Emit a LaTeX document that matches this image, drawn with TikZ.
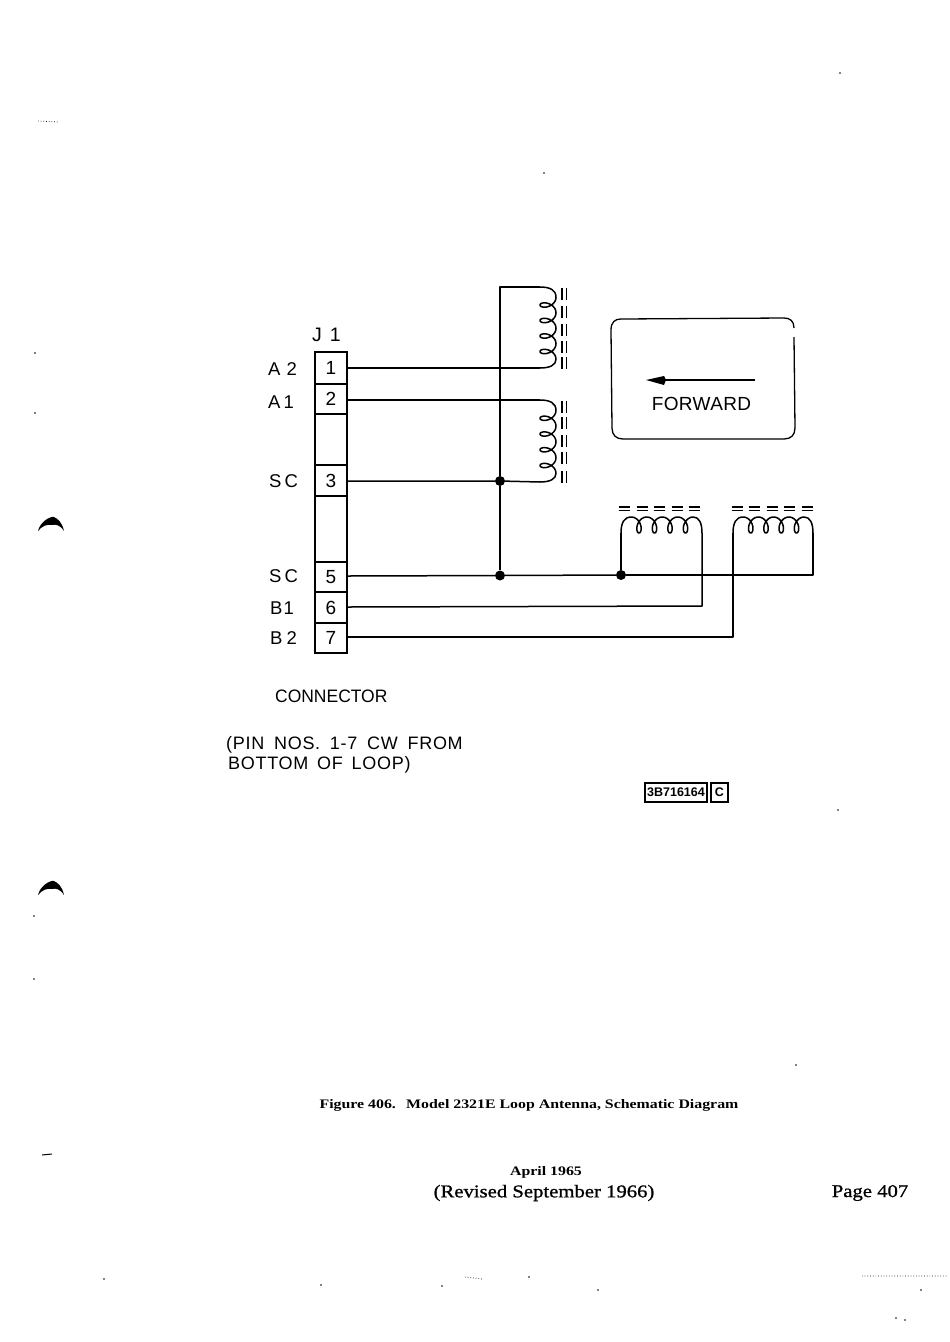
\documentclass[tikz,border=0pt]{standalone}
\usepackage{fontspec}
\setmainfont{Liberation Sans}
\newfontfamily\lsfont{Liberation Sans}[LetterSpace=2]
\newfontfamily\notefont{Liberation Sans}[LetterSpace=4]
\newfontfamily\connfont{Liberation Sans}[FakeStretch=0.97]
\newfontfamily\figfont{Liberation Serif}[FakeStretch=1.22]
\newfontfamily\pagefont{Liberation Serif}[FakeStretch=1.15,FakeBold=1]
\newcommand{\vcoil}[2]{%
  \begin{scope}[shift={(540,#1)}]
    \pgfmathsetmacro{\LL}{#2-#1}
    \pgfmathsetmacro{\pp}{(\LL-19)/4}
    \draw[wire] (0,0) .. controls (10,0) and (16,3) .. (16,2.5+0.5*\pp)
      -- plot[smooth,domain=0.5:4.5,samples=129,variable=\u]
        ({8*(1-cos(360*\u))},{2.5+\pp*\u-5.5*sin(360*\u)})
      .. controls (16,\LL-3) and (10,\LL) .. (0,\LL);
  \end{scope}}
\newcommand{\hcoil}[2]{%
  \begin{scope}[shift={(#1,533)}]
    \pgfmathsetmacro{\LL}{#2-#1}
    \pgfmathsetmacro{\pp}{(\LL-19)/4}
    \draw[wire] (0,0) .. controls (0,-10) and (3,-16) .. (2.5+0.5*\pp,-16)
      -- plot[smooth,domain=0.5:4.5,samples=129,variable=\u]
        ({2.5+\pp*\u-5.5*sin(360*\u)},{-8*(1-cos(360*\u))})
      .. controls (\LL-3,-16) and (\LL,-10) .. (\LL,0);
  \end{scope}}
\begin{document}
\begin{tikzpicture}[x=1pt,y=-1pt,
  wire/.style={line width=1.5pt,line join=round},
  pinbox/.style={draw,line width=1.5pt,minimum width=32pt,inner sep=0pt,font=\fontsize{19}{19}\selectfont},
  emptybox/.style={draw,line width=1.5pt,minimum width=32pt,inner sep=0pt},
  lbl/.style={inner sep=0pt,anchor=base west,font=\fontsize{18.5}{18.5}\selectfont},
  captxt/.style={inner sep=0pt,anchor=base west,font=\notefont\fontsize{18}{18}\selectfont},
  dot/.style={circle,fill,inner sep=0pt,minimum size=10pt},
  smudge/.style={fill=black,draw=none}]
\useasboundingbox (0,0) rectangle (950,1342);
\fill[white] (0,0) rectangle (950,1342);
% connector
\node[pinbox,minimum height=32pt] (p1) at (331,368) {1};
\node[pinbox,minimum height=30pt] (p2) at (331,399) {2};
\node[emptybox,minimum height=51pt] (e1) at (331,439.5) {};
\node[pinbox,minimum height=31pt] (p3) at (331,480.5) {3};
\node[emptybox,minimum height=66pt] (e2) at (331,529) {};
\node[pinbox,minimum height=30pt] (p5) at (331,577) {5};
\node[pinbox,minimum height=31pt] (p6) at (331,607.5) {6};
\node[pinbox,minimum height=30pt] (p7) at (331,638) {7};
\node[lbl,font=\fontsize{19.5}{19.5}\selectfont] (j1) at (312,341) {J\hspace{8pt}1};
\node[lbl] (a2) at (268,375) {A\hspace{6pt}2};
\node[lbl] (a1) at (268,408) {A\hspace{3pt}1};
\node[lbl] (sc1) at (269,487) {S\hspace{3pt}C};
\node[lbl] (sc2) at (269,582) {S\hspace{3pt}C};
\node[lbl] (b1) at (270,614) {B\hspace{1pt}1};
\node[lbl] (b2) at (270,644) {B\hspace{4pt}2};
% junctions
\node[dot] (d1) at (500,481) {};
\node[dot] (d2) at (500,575.5) {};
\node[dot] (d3) at (621,575) {};
\coordinate (ct) at (500,287);
\coordinate (c1t) at (540,287);
\coordinate (c1b) at (540,368);
\coordinate (c2t) at (540,400);
\coordinate (c2b) at (540,482);
% wires
\draw[wire] (c1t) -- (ct) -- (d1) -- (d2);
\draw[wire] (p1.east) -- (c1b);
\draw[wire] (p2.east |- 0,400) -- (c2t);
\draw[wire] (p3.east |- 0,481) -- (d1) -- (c2b);
\draw[wire] (p5.east |- 0,576) -- (d2) -- (d3);
\draw[wire] (d3) -- (813,575) -- (813,533);
\draw[wire] (d3) -- (621,533);
\draw[wire] (p6.east |- 0,607) -- (702,606) -- (702,533);
\draw[wire] (p7.east |- 0,637) -- (733,637) -- (733,533);
% coils
\vcoil{287}{368}
\vcoil{400}{482}
\hcoil{621}{702}
\hcoil{733}{813}
% core hash, vertical
\foreach \y in {294,312,330,347,363,407,423,441,458,477}
  \draw[line width=1.5pt] (562,\y-6) -- (562,\y+6) (566.5,\y-6) -- (566.5,\y+6);
% core hash, horizontal
\foreach \x in {624,642,659,677,694,737,754,772,789,807}
  \draw[line width=1.6pt] (\x-5.5,507) -- (\x+5.5,507) (\x-5.5,510.5) -- (\x+5.5,510.5);
% forward box
\draw[line width=1.3pt] (794,328) .. controls (794,321) and (790,318) .. (784,318)
  -- (621,319) .. controls (615,319) and (611,322) .. (611,330)
  -- (612,428) .. controls (612,435) and (616,439) .. (623,439)
  -- (784,439) .. controls (791,439) and (795,435) .. (795,428) -- (794,337);
\coordinate (at) at (755,380);
\coordinate (ah) at (646,380);
\draw[line width=1.5pt] (at) -- (660,380);
\fill (ah) -- (664,376) -- (666,380) -- (664,385) -- cycle;
\node[inner sep=0pt,font=\lsfont\fontsize{19}{19}\selectfont] (fwd) at (701.5,403.5) {FORWARD};
% caption texts
\node[captxt,font=\connfont\fontsize{18}{18}\selectfont] (conn) at (275,702) {CONNECTOR};
\node[captxt] (note1) at (226,749) {(PIN\hspace{4pt} NOS.\hspace{4pt} 1-7\hspace{4pt} CW\hspace{4pt} FROM};
\node[captxt] (note2) at (228,769.5) {BOTTOM\hspace{3pt} OF\hspace{3pt} LOOP)};
% drawing number
\node[draw,line width=1.6pt,inner sep=0pt,minimum width=62pt,minimum height=19pt,font=\bfseries\fontsize{12.5}{12.5}\selectfont] (num) at (676,792.5) {3B716164};
\node[draw,line width=1.6pt,inner sep=0pt,minimum width=17pt,minimum height=19pt,font=\bfseries\fontsize{12.5}{12.5}\selectfont] (rev) at (719.5,792.5) {C};
% footer
\node[inner sep=0pt,font=\figfont\bfseries\fontsize{13}{13}\selectfont] (fig) at (529,1105) {Figure 406.\hspace{5pt} Model 2321E Loop Antenna, Schematic Diagram};
\node[inner sep=0pt,font=\figfont\bfseries\fontsize{13}{13}\selectfont] (date) at (546,1172) {April 1965};
\node[inner sep=0pt,font=\pagefont\fontsize{18}{18}\selectfont] (rev2) at (544,1193) {(Revised September 1966)};
\node[inner sep=0pt,font=\pagefont\fontsize{18}{18}\selectfont] (page) at (870,1193) {Page 407};
% punch marks
\fill[smudge] (38,531) .. controls (40,522) and (50,516) .. (54,517) .. controls (58,519) and (62,522) .. (64,531) .. controls (60,525) and (56,524) .. (52,525) .. controls (47,524) and (42,526) .. (38,531) -- cycle;
\fill[smudge] (38,895) .. controls (40,886) and (50,880) .. (54,881) .. controls (58,883) and (62,886) .. (64,895) .. controls (60,889) and (56,888) .. (52,889) .. controls (47,888) and (42,890) .. (38,895) -- cycle;
\draw[line width=1pt] (42,1155) -- (52,1154);
\foreach \x/\y in {35/353,35/413,34/916,34/979,544/173,840/73,838/810,796/1065,104/1279,321/1285,529/1277,598/1290,442/1286,905/1320,921/1290,896/1318}
  \fill (\x,\y) circle (0.9pt);
\draw[line width=.7pt,dotted] (38,121) -- (58,122) (862,1276) -- (948,1276) (465,1277) -- (482,1279);
\end{tikzpicture}
\end{document}
